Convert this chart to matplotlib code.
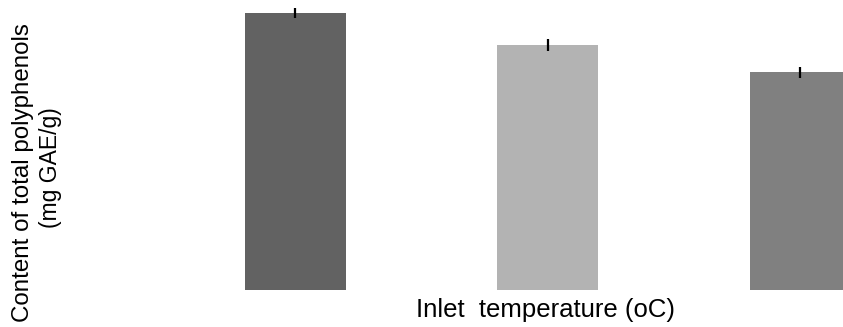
import matplotlib.pyplot as plt

plt.rcParams['font.family'] = ['Liberation Sans', 'DejaVu Sans']

# Total polyphenol content at three inlet temperatures
groups = ['T1', 'T2', 'T3']
polyphenols = [27.7, 24.5, 21.8]
errors = [0.47, 0.6, 0.55]
bar_colors = ['#626262', '#b3b3b3', '#808080']

fig = plt.figure(figsize=(8.43, 3.27), dpi=100)
ax = fig.add_axes([93 / 843, 37 / 327, 750 / 843, 290 / 327])

ax.bar(range(len(groups)), polyphenols, width=0.4, color=bar_colors,
       yerr=errors, error_kw=dict(ecolor='black', elinewidth=1.6, capsize=0))

ax.set_xlim(-0.8, 2.17)
ax.set_ylim(0, 29.0)

# No visible axes, only the titles
for side in ax.spines.values():
    side.set_visible(False)
ax.set_xticks([])
ax.set_yticks([])

fig.text(546 / 843, 1 - 317 / 327, 'Inlet  temperature (oC)', fontsize=18.5,
         ha='center', va='baseline')
# two-line y title, each line placed on its own
fig.text(23.5 / 843, 1 - 172.5 / 327, 'Content of total polyphenols',
         fontsize=17.4, rotation=90, ha='center', va='center')
fig.text(51 / 843, 1 - 167.5 / 327, '(mg GAE/g)',
         fontsize=16.5, rotation=90, ha='center', va='center')

fig.savefig('out.png', dpi=100)
